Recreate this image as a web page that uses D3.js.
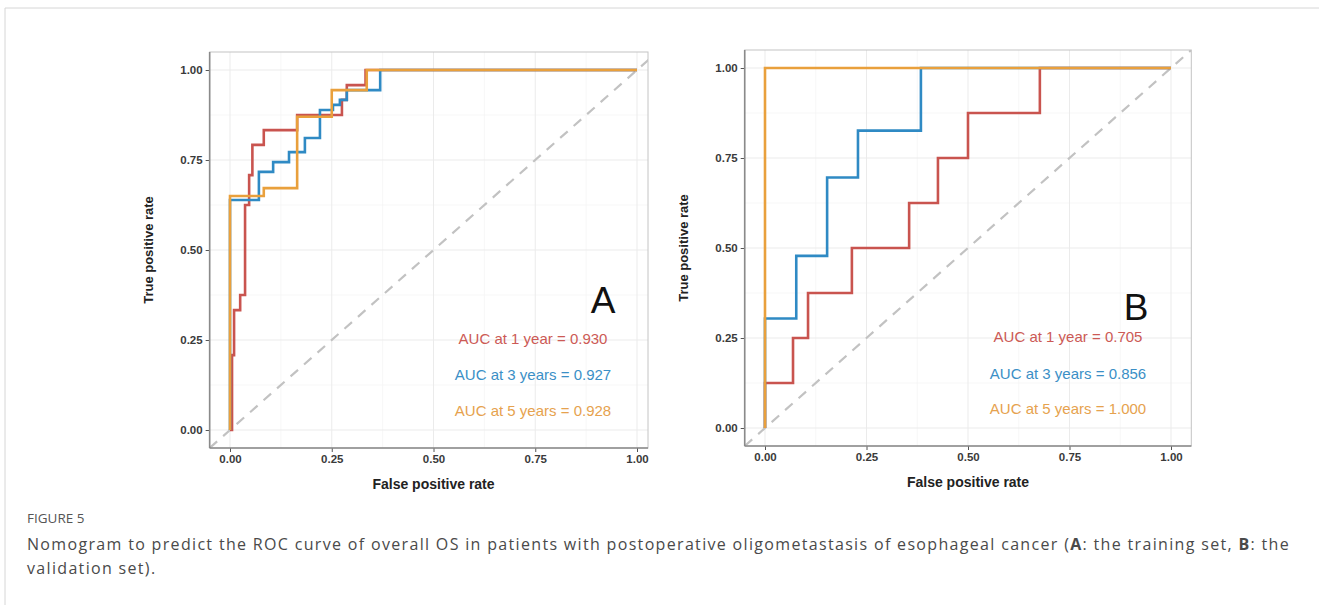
<!DOCTYPE html>
<html><head><meta charset="utf-8">
<script src="https://cdn.jsdelivr.net/npm/d3@7"></script>
<style>
html,body{margin:0;padding:0;background:#fff;}
svg{display:block;}
</style></head>
<body>
<svg id="chart" width="1319" height="605"></svg>
<script>
// ---------- data ----------
const tickValues = [0, 0.25, 0.5, 0.75, 1];
const tickLabels = ["0.00", "0.25", "0.50", "0.75", "1.00"];
const seriesNames = ["1 year", "3 years", "5 years"];
const seriesColors = ["#c9544f", "#2f8ac4", "#e9a03c"];
const textColors = ["#cc5a55", "#3b8fc6", "#e6a24e"];

// Panel A (training set) — ROC corner points (x = FPR where TPR jumps, y = new TPR)
const trainFpr1 = [0, 0.005, 0.010, 0.025, 0.037, 0.047, 0.055, 0.083, 0.165, 0.275, 0.287, 0.333, 1];
const trainTpr1 = [0, 0.208, 0.333, 0.375, 0.625, 0.708, 0.792, 0.833, 0.875, 0.917, 0.958, 1.000, 1];
const trainFpr3 = [0, 0.000, 0.071, 0.106, 0.145, 0.184, 0.221, 0.253, 0.270, 0.287, 0.369, 1];
const trainTpr3 = [0, 0.639, 0.717, 0.744, 0.772, 0.811, 0.889, 0.903, 0.917, 0.944, 1.000, 1];
const trainFpr5 = [0, 0.000, 0.083, 0.165, 0.250, 0.336, 1];
const trainTpr5 = [0, 0.650, 0.672, 0.870, 0.944, 1.000, 1];
const trainAuc = ["0.930", "0.927", "0.928"];

// Panel B (validation set)
const validFpr1 = [0, 0.000, 0.069, 0.106, 0.214, 0.355, 0.426, 0.500, 0.677, 1];
const validTpr1 = [0, 0.125, 0.250, 0.375, 0.500, 0.625, 0.750, 0.875, 1.000, 1];
const validFpr3 = [0, 0.000, 0.077, 0.153, 0.229, 0.384, 1];
const validTpr3 = [0, 0.304, 0.478, 0.696, 0.826, 1.000, 1];
const validFpr5 = [0, 0.000, 1];
const validTpr5 = [0, 1.000, 1];
const validAuc = ["0.705", "0.856", "1.000"];

const xTitle = "False positive rate";
const yTitle = "True positive rate";
const captionHead = "FIGURE 5";

// ---------- drawing ----------
const svg = d3.select("#chart");

// outer frame
svg.append("line").attr("x1", 5).attr("x2", 1319).attr("y1", 8).attr("y2", 8)
  .attr("stroke", "#d6d6d6").attr("stroke-width", 1);
svg.append("line").attr("x1", 5).attr("x2", 5).attr("y1", 8).attr("y2", 605)
  .attr("stroke", "#d6d6d6").attr("stroke-width", 1);

function zip(xs, ys) { return xs.map((x, i) => ({ x: x, y: ys[i] })); }

function panel(cfg) {
  const x = d3.scaleLinear().domain([0, 1]).range([cfg.x0, cfg.x1]);
  const y = d3.scaleLinear().domain([0, 1]).range([cfg.y0, cfg.y1]);
  const left = x(-0.05), bottom = y(-0.05), top = y(1.05);
  const right = cfg.right !== undefined ? cfg.right : x(1.05);
  const g = svg.append("g");
  const clipId = "clip" + cfg.id;
  g.append("clipPath").attr("id", clipId).append("rect")
    .attr("x", left).attr("y", top).attr("width", right - left).attr("height", bottom - top);

  // grid
  const minor = [0.125, 0.375, 0.625, 0.875];
  const grid = g.append("g").attr("clip-path", `url(#${clipId})`);
  minor.forEach(v => {
    grid.append("line").attr("x1", x(v)).attr("x2", x(v)).attr("y1", top).attr("y2", bottom)
      .attr("stroke", "#f4f4f4").attr("stroke-width", 0.7);
    grid.append("line").attr("y1", y(v)).attr("y2", y(v)).attr("x1", left).attr("x2", right)
      .attr("stroke", "#f4f4f4").attr("stroke-width", 0.7);
  });
  tickValues.forEach(v => {
    grid.append("line").attr("x1", x(v)).attr("x2", x(v)).attr("y1", top).attr("y2", bottom)
      .attr("stroke", "#ebebeb").attr("stroke-width", 1);
    grid.append("line").attr("y1", y(v)).attr("y2", y(v)).attr("x1", left).attr("x2", right)
      .attr("stroke", "#ebebeb").attr("stroke-width", 1);
  });

  // border
  g.append("rect").attr("x", left).attr("y", top).attr("width", right - left).attr("height", bottom - top)
    .attr("fill", "none").attr("stroke", "#c4c4c4").attr("stroke-width", 1);

  // diagonal
  grid.append("line").attr("x1", x(-0.05)).attr("y1", y(-0.05)).attr("x2", x(1.05)).attr("y2", y(1.05))
    .attr("stroke", "#c2c2c2").attr("stroke-width", 2.2).attr("stroke-dasharray", "10,8");

  // curves
  const line = d3.line().x(d => x(d.x)).y(d => y(d.y)).curve(d3.curveStepAfter);
  cfg.series.forEach((s, i) => {
    g.append("path").datum(zip(s[0], s[1])).attr("d", line)
      .attr("fill", "none").attr("stroke", seriesColors[i]).attr("stroke-width", 2.6)
      .attr("stroke-linejoin", "miter").attr("clip-path", `url(#${clipId})`);
  });

  // axes
  const xAxis = d3.axisBottom(x).tickValues(tickValues).tickFormat((d, i) => tickLabels[i])
    .tickSize(4).tickSizeOuter(0).tickPadding(3);
  const yAxis = d3.axisLeft(y).tickValues(tickValues).tickFormat((d, i) => tickLabels[i])
    .tickSize(4).tickSizeOuter(0).tickPadding(3);
  const gx = g.append("g").attr("transform", `translate(0,${bottom})`).call(xAxis);
  const gy = g.append("g").attr("transform", `translate(${left},0)`).call(yAxis);
  [gx, gy].forEach(a => {
    a.select(".domain").remove();
    a.selectAll(".tick line").attr("stroke", "#555").attr("stroke-width", 1);
    a.selectAll("text").attr("font-family", "'Liberation Sans', Arial, sans-serif")
      .attr("font-size", 11.5).attr("font-weight", "bold").attr("fill", "#3a3a3a");
  });
  // axis lines (left & bottom)
  g.append("line").attr("x1", left).attr("x2", right).attr("y1", bottom).attr("y2", bottom)
    .attr("stroke", "#8a8a8a").attr("stroke-width", 1.6);
  g.append("line").attr("x1", left).attr("x2", left).attr("y1", top).attr("y2", bottom)
    .attr("stroke", "#8a8a8a").attr("stroke-width", 1.6);

  // titles
  g.append("text").attr("x", x(0.5)).attr("y", bottom + 41).attr("text-anchor", "middle")
    .attr("font-family", "'Liberation Sans', Arial, sans-serif").attr("font-size", 14)
    .attr("font-weight", "bold").attr("fill", "#222").text(xTitle);
  g.append("text").attr("transform", `translate(${left - 60},${y(0.5)}) rotate(-90)`)
    .attr("text-anchor", "middle").attr("dominant-baseline", "middle")
    .attr("font-family", "'Liberation Sans', Arial, sans-serif").attr("font-size", 13)
    .attr("font-weight", "bold").attr("fill", "#222").text(yTitle);

  // big letter
  g.append("text").attr("x", cfg.letterX).attr("y", cfg.letterY).attr("text-anchor", "middle")
    .attr("font-family", "'Liberation Sans', Arial, sans-serif").attr("font-size", 37)
    .attr("fill", "#111").text(cfg.letter);

  // AUC labels
  cfg.auc.forEach((a, i) => {
    g.append("text").attr("x", cfg.aucX).attr("y", cfg.aucY[i]).attr("text-anchor", "middle")
      .attr("dominant-baseline", "middle")
      .attr("font-family", "'Liberation Sans', Arial, sans-serif").attr("font-size", 15)
      .attr("fill", textColors[i]).text(`AUC at ${seriesNames[i]} = ${a}`);
  });
}

panel({
  id: "A", x0: 230, x1: 637, y0: 430, y1: 70, right: 648,
  series: [[trainFpr1, trainTpr1], [trainFpr3, trainTpr3], [trainFpr5, trainTpr5]],
  letter: "A", letterX: 603, letterY: 313,
  auc: trainAuc, aucX: 533, aucY: [340, 376, 412]
});
panel({
  id: "B", x0: 765, x1: 1171, y0: 428, y1: 68,
  series: [[validFpr1, validTpr1], [validFpr3, validTpr3], [validFpr5, validTpr5]],
  letter: "B", letterX: 1136, letterY: 320,
  auc: validAuc, aucX: 1068, aucY: [338, 375, 410]
});

// caption
svg.append("text").attr("x", 27).attr("y", 523)
  .attr("font-family", "'Open Sans', sans-serif").attr("font-size", 13.5)
  .attr("fill", "#555").text(captionHead);

const cap1 = svg.append("text").attr("x", 27).attr("y", 550)
  .attr("font-family", "'Open Sans', sans-serif").attr("font-size", 16).attr("fill", "#4a4a4a");
cap1.append("tspan").text("Nomogram to predict the ROC curve of overall OS in patients with postoperative oligometastasis of esophageal cancer (");
cap1.append("tspan").attr("font-weight", "bold").text("A");
cap1.append("tspan").text(": the training set, ");
cap1.append("tspan").attr("font-weight", "bold").text("B");
cap1.append("tspan").text(": the");
const w = cap1.node().getComputedTextLength();
const nChars = cap1.text().length;
const ls = (1263 - w) / nChars;
cap1.attr("letter-spacing", ls);

svg.append("text").attr("x", 27).attr("y", 574)
  .attr("font-family", "'Open Sans', sans-serif").attr("font-size", 16).attr("fill", "#4a4a4a")
  .attr("letter-spacing", ls).text("validation set).");
</script>
</body></html>
